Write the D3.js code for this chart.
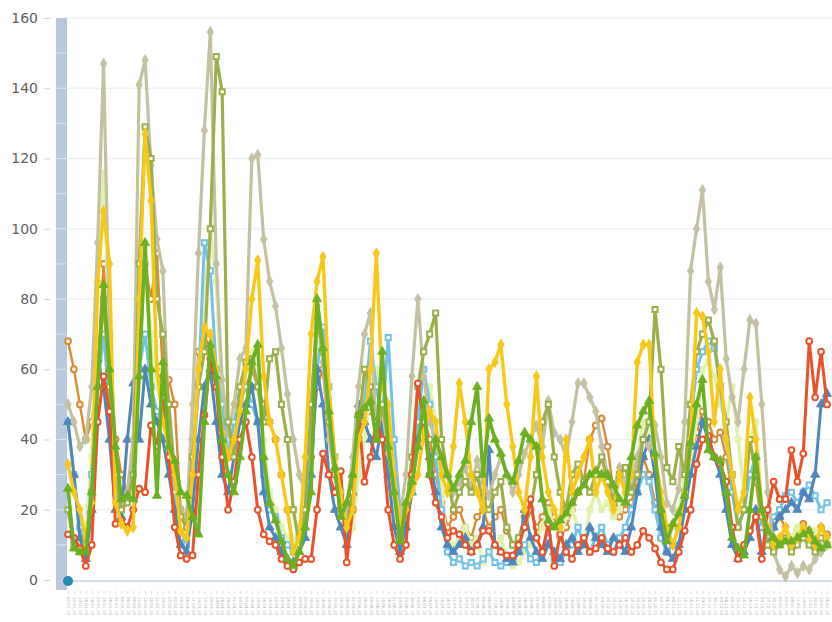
<!DOCTYPE html>
<html>
<head>
<meta charset="utf-8">
<script src="https://cdn.jsdelivr.net/npm/d3@7/dist/d3.min.js"></script>
<style>
  body { margin: 0; background: #fff; overflow: hidden; }
  .y-axis text { font-family: "DejaVu Sans", sans-serif; font-size: 14px; fill: #606060; }
  .x-axis text { font-family: "DejaVu Sans", sans-serif; font-size: 4px; fill: #a8a8a8; }
</style>
</head>
<body>
<div class="visualisation"></div>
<script>
// y ticks
var yTicks = [0, 20, 40, 60, 80, 100, 120, 140, 160];

// series values, one per point on the x axis
var khaki = [50,45,38,40,55,96,147,70,35,22, 25,40,141,148,118,97,88,45,28,20,
  18,50,93,128,156,90,57,42,50,63, 66,120,121,97,85,78,66,53,40,30,
  25,45,78,62,40,30,22,20,35,55, 70,76,42,48,36,25,18,30,58,80,
  58,45,40,33,30,25,28,32,26,34, 28,24,30,35,30,25,30,36,40,44,
  38,51,42,40,35,45,56,56,52,48, 38,30,26,32,28,26,35,40,38,44,
  35,22,20,26,45,88,100,111,85,77, 89,63,52,45,60,74,73,50,25,8,
  3,1,4,2,4,3,6,8,10];

var gold = [33,25,20,12,22,85,105,90,22,16, 14,15,80,127,108,60,45,38,30,14,
  12,30,60,72,70,60,42,35,40,48, 60,80,91,58,45,40,30,20,8,12,
  35,70,85,92,55,35,25,15,20,40, 45,60,93,55,50,30,15,20,25,30,
  42,48,45,30,25,38,56,45,30,25, 20,60,62,67,50,38,25,20,35,58,
  35,25,20,15,40,25,30,35,40,25, 30,25,20,30,25,30,62,67,67,35,
  25,15,10,15,25,40,76,75,65,45, 60,40,30,20,25,52,40,20,15,10,
  12,15,10,12,15,12,10,15,12];

var green = [26,9,8,8,25,55,84,60,38,23, 24,23,58,96,60,24,62,38,34,25,
  24,18,13,45,67,58,40,30,25,35, 48,62,67,35,22,17,11,6,4,8,
  15,25,80,66,48,32,18,22,30,47, 49,51,40,65,38,25,11,22,28,38,
  51,30,40,35,30,26,30,34,45,55, 30,46,40,36,30,28,34,42,40,38,
  23,17,15,17,19,22,25,27,30,31, 30,30,27,23,22,35,44,48,51,36,
  20,11,16,19,24,39,50,57,37,35, 34,25,12,9,7,20,35,20,14,12,
  10,11,11,12,13,14,11,9,10];

var olive = [20,10,8,10,25,60,80,55,30,20, 22,30,90,129,120,80,70,50,30,18,
  15,35,55,65,100,149,139,45,35,55, 62,63,55,45,63,65,50,40,20,10,
  20,50,75,65,45,30,20,15,25,42, 60,55,40,50,40,25,12,20,35,55,
  65,70,76,40,30,20,25,28,25,30, 22,20,25,28,15,10,12,15,20,30,
  45,50,35,25,20,30,33,28,25,30, 35,28,22,30,32,25,30,40,45,77,
  60,32,28,38,30,50,65,70,74,68, 55,45,30,15,20,40,30,18,10,8,
  10,12,8,10,12,10,8,12,10];

var red = [13,12,9,4,10,45,58,48,16,17, 15,20,26,25,44,38,52,35,15,7,
  6,7,30,47,63,55,35,20,28,40, 45,35,20,13,11,10,6,4,3,5,
  6,6,20,36,30,25,31,5,20,47, 28,35,45,40,20,10,6,10,30,56,
  45,30,22,18,12,14,13,10,8,10, 14,14,10,8,7,7,10,15,23,12,
  8,16,4,13,8,6,10,12,8,9, 12,9,8,10,12,8,10,14,12,9,
  5,3,3,8,14,20,33,40,41,35, 33,28,15,6,10,14,18,6,20,28,
  23,23,37,28,36,68,52,65,50];

var steel = [45,30,12,6,20,63,55,40,20,18, 40,56,40,60,50,45,40,30,20,10,
  8,20,40,55,60,45,30,25,35,45, 50,55,45,25,15,12,8,6,5,8,
  12,30,60,50,30,20,15,10,25,50, 45,40,35,45,30,15,8,15,25,40,
  45,35,25,15,10,8,10,12,8,10, 15,37,10,8,6,5,8,20,12,8,
  6,10,8,6,10,12,8,10,15,12, 10,8,12,10,8,15,25,35,40,30,
  15,8,6,10,20,30,38,45,40,35, 30,20,10,6,8,12,20,8,10,15,
  18,20,22,20,25,23,30,50,53];

var lightBlue = [45,30,15,8,30,55,70,50,25,20, 25,35,60,70,55,48,45,40,25,12,
  10,30,55,96,88,60,50,35,45,52, 55,50,45,30,20,18,12,10,8,12,
  20,40,60,72,55,35,25,15,20,45, 50,68,55,45,69,40,20,15,25,45,
  60,50,35,20,8,5,6,4,5,4, 6,8,5,4,5,6,8,10,6,5,
  8,12,6,5,8,10,15,10,8,12, 15,10,8,12,15,20,25,30,28,20,
  12,8,10,15,25,45,60,65,68,66, 55,40,25,15,20,30,35,15,12,18,
  20,24,25,22,25,27,24,20,22];

var pale = [20,12,10,15,35,80,116,70,30,25, 22,30,70,90,70,55,50,45,20,12,
  15,35,60,80,100,85,50,40,48,55, 60,65,55,40,25,20,15,12,10,15,
  25,50,70,65,45,35,20,10,15,30, 40,55,60,50,40,20,12,18,25,40,
  50,55,45,25,8,10,12,15,10,12, 5,8,10,12,6,4,5,8,10,12,
  15,20,15,12,18,20,15,10,20,25, 20,22,18,20,25,30,35,45,40,30,
  18,12,15,20,28,35,45,60,62,58, 50,45,55,40,25,40,45,20,15,12,
  10,14,12,15,12,10,14,12,10];

var orange = [68,60,50,40,45,60,90,70,40,30, 25,30,60,90,80,93,58,57,50,20,
  18,40,65,70,65,55,45,40,45,50, 55,60,55,50,45,40,30,20,10,12,
  20,35,55,60,40,30,22,18,25,40, 50,48,45,40,35,20,12,20,30,45,
  47,40,30,22,15,18,20,15,12,18, 20,15,18,20,14,10,12,18,20,15,
  18,22,18,12,15,20,25,28,40,44, 46,38,25,18,20,22,28,35,30,22,
  12,8,10,15,25,35,42,48,45,40, 42,35,25,15,20,30,28,15,12,15,
  18,15,12,14,16,14,12,15,13];

// categories: one label per point (too small to read in the picture)
var start = new Date(2013, 0, 7);
var categories = d3.range(khaki.length).map(function(i){
  return d3.timeFormat("%d.%m.%y")(d3.timeDay.offset(start, i * 3));
});

// draw order, bottom first
var seriesList = [
  {name: "orange", values: orange, color: "#d98b33", symbol: d3.symbolCircle, filled: false, w: 2.4},
  {name: "pale", values: pale, color: "#e3f1b0", symbol: d3.symbolSquare, filled: true, w: 3.6},
  {name: "lightBlue", values: lightBlue, color: "#72c2ea", symbol: d3.symbolSquare, filled: false, w: 3},
  {name: "steel", values: steel, color: "#4f86bb", symbol: d3.symbolTriangle, filled: true, w: 3},
  {name: "khaki", values: khaki, color: "#c4c1a2", symbol: d3.symbolDiamond, filled: true, w: 3.2},
  {name: "olive", values: olive, color: "#9caf4c", symbol: d3.symbolSquare, filled: false, w: 3.2},
  {name: "red", values: red, color: "#e8532b", symbol: d3.symbolCircle, filled: false, w: 3},
  {name: "gold", values: gold, color: "#f7c81a", symbol: d3.symbolDiamond, filled: true, w: 3.4},
  {name: "green", values: green, color: "#6cb023", symbol: d3.symbolTriangle, filled: true, w: 3.6}
];

var W = 832, H = 622;
var margin = {top: 18, left: 68, right: 5, bottom: 42};

var svg = d3.select(".visualisation").append("svg")
    .attr("width", W)
    .attr("height", H);

var x = d3.scalePoint()
    .domain(categories)
    .range([margin.left, W - margin.right]);

var y = d3.scaleLinear()
    .domain([0, 160])
    .range([H - margin.bottom, margin.top]);

// grid lines
svg.append("g")
  .selectAll("line")
  .data(yTicks.slice(1))
  .enter().append("line")
    .attr("x1", 60).attr("x2", W)
    .attr("y1", d => y(d)).attr("y2", d => y(d))
    .attr("stroke", "#eef1f5")
    .attr("stroke-width", 1.5);

// y axis labels and small tick dashes
var yAxis = svg.append("g")
    .attr("class", "y-axis")
    .attr("transform", "translate(50,0)")
    .call(d3.axisLeft(y).tickValues(yTicks).tickSize(6).tickPadding(6));
yAxis.select(".domain").remove();
yAxis.selectAll(".tick line").attr("stroke", "#d4d4d4");

// range bar along the y axis
svg.append("rect")
    .attr("x", 56).attr("y", margin.top)
    .attr("width", 11).attr("height", y(0) - margin.top + 10)
    .attr("fill", "#b9c8dc");
svg.append("g")
  .selectAll("line")
  .data(d3.range(10, 160, 10))
  .enter().append("line")
    .attr("x1", 57).attr("x2", 66)
    .attr("y1", d => y(d)).attr("y2", d => y(d))
    .attr("stroke", "#dfe6f0")
    .attr("stroke-width", 1);

// baseline
svg.append("line")
    .attr("x1", 60).attr("x2", W)
    .attr("y1", y(0) + 1).attr("y2", y(0) + 1)
    .attr("stroke", "#c6d0dd")
    .attr("stroke-width", 1.5);

// x axis: dense tiny rotated labels
var xAxis = svg.append("g")
    .attr("class", "x-axis")
    .attr("transform", "translate(0," + (y(0) + 11) + ")")
    .call(d3.axisBottom(x).tickSize(3).tickPadding(2));
xAxis.select(".domain").remove();
xAxis.selectAll(".tick line").attr("stroke", "#dcdcdc");
xAxis.selectAll(".tick text")
    .attr("transform", "rotate(90)")
    .attr("text-anchor", "start")
    .attr("dy", "0.3em")
    .attr("x", 6)
    .attr("y", 0);

var plot = svg.append("g");

var line = d3.line()
    .x((d, i) => x(categories[i]))
    .y(d => y(d));

seriesList.forEach(function(s){
  var g = plot.append("g").attr("class", s.name);

  g.append("path")
    .datum(s.values)
    .attr("fill", "none")
    .attr("stroke", s.color)
    .attr("stroke-width", s.w)
    .attr("stroke-linejoin", "round")
    .attr("d", line);

  g.selectAll("path.mark")
    .data(s.values)
    .enter().append("path")
      .attr("class", "mark")
      .attr("transform", (d, i) => "translate(" + x(categories[i]) + "," + y(d) + ")")
      .attr("d", d3.symbol().type(s.symbol).size(s.filled ? 36 : 26))
      .attr("fill", s.filled ? s.color : "#fff")
      .attr("stroke", s.color)
      .attr("stroke-width", s.filled ? 0.8 : 2);
});

// handle at the origin
svg.append("circle")
    .attr("cx", 68).attr("cy", y(0) + 1)
    .attr("r", 5)
    .attr("fill", "#1f8db0");
</script>
</body>
</html>
